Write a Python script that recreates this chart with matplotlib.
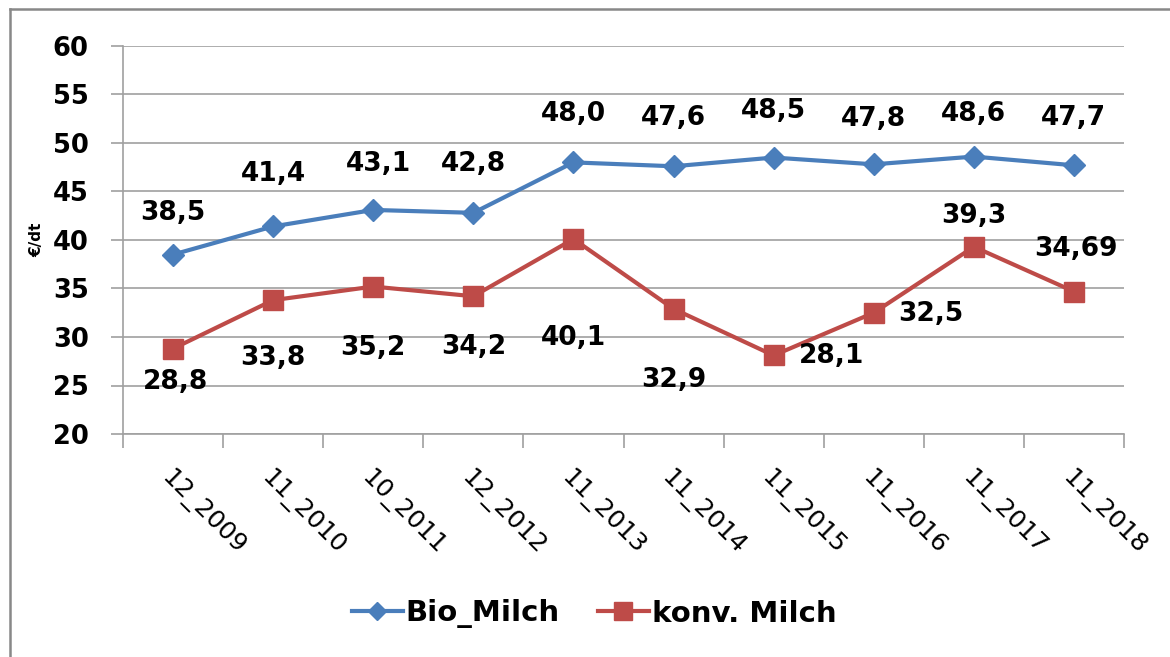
import matplotlib.pyplot as plt
from matplotlib.lines import Line2D

plt.rcParams['font.family'] = ['DejaVu Sans']

months = ['12_2009', '11_2010', '10_2011', '12_2012', '11_2013',
          '11_2014', '11_2015', '11_2016', '11_2017', '11_2018']
bio = [38.5, 41.4, 43.1, 42.8, 48.0, 47.6, 48.5, 47.8, 48.6, 47.7]
konv = [28.8, 33.8, 35.2, 34.2, 40.1, 32.9, 28.1, 32.5, 39.3, 34.69]
bio_txt = ['38,5', '41,4', '43,1', '42,8', '48,0', '47,6', '48,5', '47,8', '48,6', '47,7']
konv_txt = ['28,8', '33,8', '35,2', '34,2', '40,1', '32,9', '28,1', '32,5', '39,3', '34,69']

# label offsets in pixels (dx, dy) relative to the marker
bio_off = [(0, 42), (0, 52), (5, 46), (0, 49), (0, 48), (0, 48), (0, 47), (0, 45), (0, 43), (-1, 47)]
konv_off = [(2, -33), (0, -58), (0, -61), (0, -51), (0, -99), (0, -71), (58, -1), (57, -1), (0, 31), (2, 43)]

blue = '#4A7EBB'
red = '#BE4B48'

fig = plt.figure(figsize=(11.7, 6.57), dpi=100)
ax = fig.add_axes([123 / 1170, 1 - 434 / 657, 1001 / 1170, 388 / 657])

x = list(range(len(months)))
ax.plot(x, bio, color=blue, lw=3, marker='D', ms=11, label='Bio_Milch')
ax.plot(x, konv, color=red, lw=3, marker='s', ms=15, label='konv. Milch')

for i in x:
    dx, dy = bio_off[i]
    ax.annotate(bio_txt[i], (i, bio[i]), xytext=(dx * 0.72, dy * 0.72), textcoords='offset points',
                ha='center', va='center', fontsize=19, fontweight='bold')
    dx, dy = konv_off[i]
    ax.annotate(konv_txt[i], (i, konv[i]), xytext=(dx * 0.72, dy * 0.72), textcoords='offset points',
                ha='center', va='center', fontsize=19, fontweight='bold')

ax.set_xlim(-0.5, len(months) - 0.5)
ax.set_ylim(20, 60)
ax.set_yticks(range(20, 61, 5))
ax.tick_params(axis='y', labelsize=18.5, length=8.6, color='#A0A0A0', width=1.2, pad=16)
for t in ax.get_yticklabels():
    t.set_fontweight('bold')

ax.set_xticks(x)
ax.set_xticklabels(months, rotation=-45, ha='left', va='top', rotation_mode='anchor', fontsize=18)
ax.set_xticks([i + 0.5 for i in range(-1, len(months))], minor=True)
ax.tick_params(axis='x', which='major', length=0, pad=23)
ax.tick_params(axis='x', which='minor', length=10, color='#A0A0A0', width=1.2)

ax.grid(axis='y', color='#A0A0A0', lw=1.2)
ax.set_axisbelow(True)
for s in ['top', 'right']:
    ax.spines[s].set_visible(False)
ax.spines['left'].set_color('#A0A0A0')
ax.spines['bottom'].set_color('#A0A0A0')
ax.spines['left'].set_linewidth(1.2)
ax.spines['bottom'].set_linewidth(1.2)

ax.set_ylabel('€/dt', fontsize=11, fontweight='bold', labelpad=6)

fig.legend(loc='center', bbox_to_anchor=(0.5 + 9 / 1170, 1 - 614 / 657), ncol=2, frameon=False,
           prop={'size': 21, 'weight': 'bold'}, handlelength=1.75, columnspacing=1.3,
           handletextpad=0.1, markerscale=0.85)

# chart area border (only top and left visible in the crop)
fig.add_artist(Line2D([10 / 1170, 1], [1 - 9 / 657, 1 - 9 / 657], color='#888888', lw=1.8))
fig.add_artist(Line2D([10 / 1170, 10 / 1170], [0, 1 - 9 / 657], color='#888888', lw=1.8))

fig.savefig('out.png', dpi=100)
